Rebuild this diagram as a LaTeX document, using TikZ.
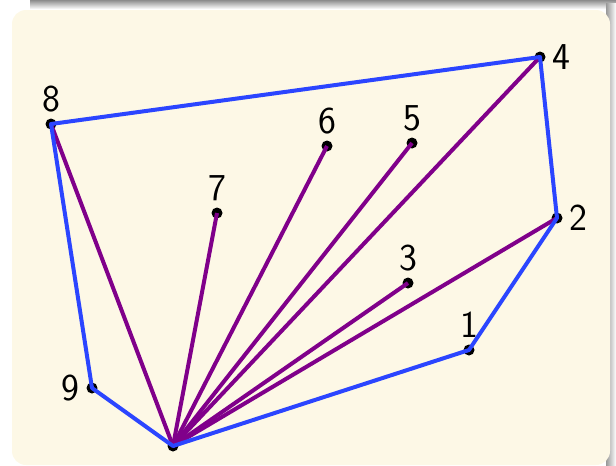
\documentclass[tikz,border=0pt]{standalone}
\usepackage{fontspec}
\setsansfont{Latin Modern Sans}
\definecolor{fundo}{HTML}{FDF8E6}
\definecolor{azul}{HTML}{2B45FF}
\definecolor{roxo}{HTML}{80008A}
\tikzset{
  ponto/.style={circle, fill=black, inner sep=0pt, minimum size=5.5pt},
  casco/.style={azul, line width=2pt, line join=round},
  corda/.style={roxo, line width=2pt},
  every label/.style={font=\sffamily\fontsize{19}{22}\selectfont, inner sep=1pt}
}
\begin{document}
\begin{tikzpicture}[x=0.5pt, y=-0.5pt]
    \useasboundingbox (0,0) rectangle (616,466);
    % Sombra e fundo do bloco
    \shade[top color=gray!90, bottom color=white] (30,0) rectangle (616,9);
    \shade[left color=gray!80, right color=white] (606,3) rectangle (616,466);
    \fill[fundo, rounded corners=7pt] (12,10) rectangle (610,465);
    % Pontos
    \node[ponto] (p0) at (173,446) {};
    \node[ponto, label={[label distance=2pt]above:1}] (p1) at (469,350) {};
    \node[ponto, label={[label distance=2pt]right:2}] (p2) at (557,218) {};
    \node[ponto, label={[label distance=2pt]above:3}] (p3) at (408,283) {};
    \node[ponto, label={[label distance=2pt]right:4}] (p4) at (540,57) {};
    \node[ponto, label={[label distance=2pt]above:5}] (p5) at (412,143) {};
    \node[ponto, label={[label distance=2pt]above:6}] (p6) at (327,146) {};
    \node[ponto, label={[label distance=2pt]above:7}] (p7) at (217,213) {};
    \node[ponto, label={[label distance=2pt]above:8}] (p8) at (51,124) {};
    \node[ponto, label={[label distance=2pt]left:9}] (p9) at (92,388) {};
    % Diagonais a partir do ponto mais baixo
    \foreach \k in {2,3,4,5,6,7,8}
      \draw[corda] (p0.center) -- (p\k.center);
    % Fecho convexo
    \draw[casco] (p0.center) -- (p1.center) -- (p2.center) -- (p4.center)
      -- (p8.center) -- (p9.center) -- cycle;
  \end{tikzpicture}
\end{document}
